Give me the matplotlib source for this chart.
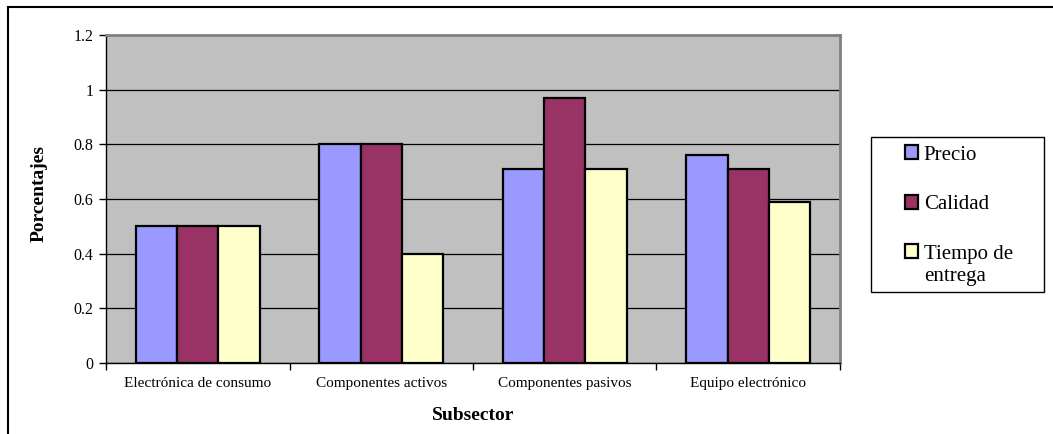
import numpy as np
import matplotlib.pyplot as plt
from matplotlib.lines import Line2D
from matplotlib.patches import Rectangle

plt.rcParams['font.family'] = ['Liberation Serif', 'DejaVu Serif']

# Datos por subsector
subsectores = ["Electrónica de consumo", "Componentes activos",
               "Componentes pasivos", "Equipo electrónico"]
precio = [0.5, 0.8, 0.71, 0.76]
calidad = [0.5, 0.8, 0.97, 0.71]
tiempo_entrega = [0.5, 0.4, 0.71, 0.59]

series = ["Precio", "Calidad", "Tiempo de"]
colores = ["#9999FF", "#993366", "#FFFFCC"]
y_ticks = [0, 0.2, 0.4, 0.6, 0.8, 1, 1.2]

fig = plt.figure(figsize=(10.53, 4.34), dpi=100)
ax = fig.add_axes([0.1007, 0.1636, 0.697, 0.7558])
ax.set_facecolor("#C0C0C0")

x = np.arange(len(subsectores))
ancho = 0.225
for i, (valores, nombre, color) in enumerate(zip([precio, calidad, tiempo_entrega], series, colores)):
    ax.bar(x + (i - 1) * ancho, valores, ancho, color=color, edgecolor="black",
           linewidth=1.6, label=nombre, zorder=3)

ax.set_xlim(-0.5, len(subsectores) - 0.5)
ax.set_ylim(0, 1.2)
ax.set_yticks(y_ticks)
ax.set_yticklabels([("%g" % v) for v in y_ticks])
ax.yaxis.grid(True, color="black", linewidth=0.9, zorder=1)
ax.set_axisbelow(True)

ax.set_xticks(x)
ax.set_xticklabels(subsectores, fontsize=11)
ax.tick_params(axis="x", which="major", length=0, pad=10)
ax.set_xticks(np.arange(-0.5, len(subsectores)), minor=True)
ax.tick_params(axis="x", which="minor", length=5, width=1, direction="out")
ax.tick_params(axis="y", length=5, width=1, direction="out", labelsize=11.5, pad=4)

for lado in ["top", "right"]:
    ax.spines[lado].set_color("#808080")
    ax.spines[lado].set_linewidth(2)
for lado in ["left", "bottom"]:
    ax.spines[lado].set_color("black")
    ax.spines[lado].set_linewidth(1)

ax.set_ylabel("Porcentajes", fontsize=14, fontweight="bold")
ax.yaxis.set_label_coords(-0.080, 0.517)
ax.set_xlabel("Subsector", fontsize=14, fontweight="bold", labelpad=12)

# caja de la leyenda
fig.add_artist(Rectangle((0.8272, 0.3272), 0.1643, 0.3571, transform=fig.transFigure,
                         facecolor="white", edgecolor="black", linewidth=1))

leg = fig.legend(loc="upper left", bbox_to_anchor=(0.8594, 0.665), fontsize=15,
                 frameon=False, handlelength=0.65, handleheight=0.65,
                 handletextpad=0.25, labelspacing=1.45, borderpad=0, borderaxespad=0)
for h in leg.legend_handles:
    h.set_linewidth(1.6)

# segunda línea de "Tiempo de entrega"
fig.canvas.draw()
bb = leg.get_texts()[2].get_window_extent().transformed(fig.transFigure.inverted())
fig.text(bb.x0, bb.y0 - 0.0403, "entrega", fontsize=15, va="baseline", ha="left")

# marco exterior del gráfico
fig.add_artist(Line2D([0.0076, 1.0], [0.984, 0.984], color="black", linewidth=1.5))
fig.add_artist(Line2D([0.0076, 0.0076], [0.0, 0.984], color="black", linewidth=1.5))

fig.savefig("out.png", dpi=100)
